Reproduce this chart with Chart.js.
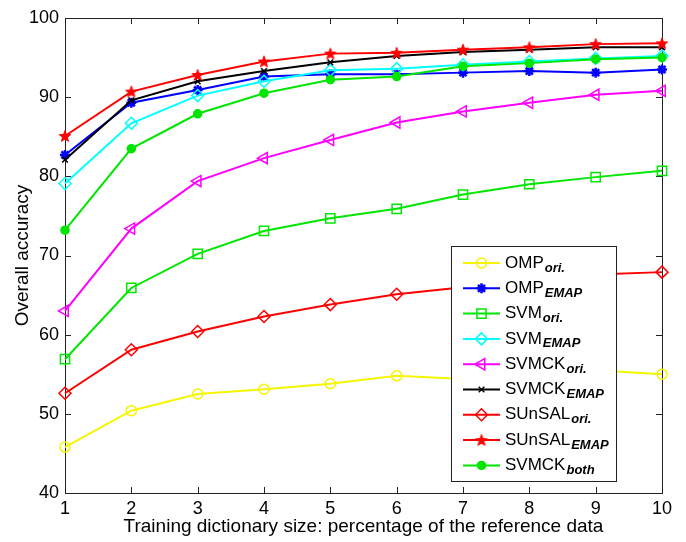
<!DOCTYPE html>
<html>
<head>
<meta charset="utf-8">
<script src="https://cdn.jsdelivr.net/npm/chart.js@4.4.1/dist/chart.umd.min.js"></script>
<style>
  html, body { margin: 0; padding: 0; background: #fff; }
  #wrap { width: 686px; height: 542px; position: relative; }
</style>
</head>
<body>
<div id="wrap"><canvas id="c" width="686" height="542"></canvas></div>
<script>
// ---- data ----
const categories = ['1', '2', '3', '4', '5', '6', '7', '8', '9', '10'];
const yTicks = [40, 50, 60, 70, 80, 90, 100];
const seriesNames = ['OMP', 'OMP', 'SVM', 'SVM', 'SVMCK', 'SVMCK', 'SUnSAL', 'SUnSAL', 'SVMCK'];
const seriesSubs = ['ori.', 'EMAP', 'ori.', 'EMAP', 'ori.', 'EMAP', 'ori.', 'EMAP', 'both'];

const ompOri      = [45.8, 50.4, 52.5, 53.1, 53.8, 54.8, 54.4, 55.0, 55.5, 55.0];
const ompEmap     = [82.7, 89.3, 90.9, 92.6, 92.9, 92.9, 93.1, 93.3, 93.1, 93.5];
const svmOri      = [56.9, 65.9, 70.2, 73.1, 74.7, 75.9, 77.7, 79.0, 79.9, 80.7];
const svmEmap     = [79.1, 86.7, 90.2, 92.0, 93.4, 93.6, 94.1, 94.5, 94.9, 95.2];
const svmckOri    = [63.0, 73.4, 79.4, 82.3, 84.6, 86.8, 88.2, 89.3, 90.3, 90.8];
const svmckEmap   = [82.1, 89.6, 92.0, 93.3, 94.4, 95.2, 95.7, 96.0, 96.3, 96.3];
const sunsalOri   = [52.6, 58.1, 60.4, 62.3, 63.8, 65.1, 66.0, 67.0, 67.6, 67.9];
const sunsalEmap  = [85.1, 90.7, 92.8, 94.5, 95.5, 95.6, 96.0, 96.3, 96.7, 96.8];
const svmckBoth   = [73.2, 83.5, 87.9, 90.5, 92.2, 92.6, 93.9, 94.3, 94.8, 95.0];

// ---- styles ----
function pentagram(color, size) {
  const cv = document.createElement('canvas');
  cv.width = size; cv.height = size;
  const g = cv.getContext('2d');
  const cx = size / 2, cy = size / 2 + 0.5, R = size / 2 - 1, r = R * 0.42;
  g.beginPath();
  for (let i = 0; i < 10; i++) {
    const a = -Math.PI / 2 + i * Math.PI / 5;
    const rr = i % 2 === 0 ? R : r;
    const px = cx + rr * Math.cos(a), py = cy + rr * Math.sin(a);
    if (i === 0) g.moveTo(px, py); else g.lineTo(px, py);
  }
  g.closePath();
  g.fillStyle = color; g.fill();
  g.strokeStyle = color; g.lineWidth = 1; g.stroke();
  return cv;
}
const starImg = pentagram('#ff0000', 14);

const styles = [
  { color: '#f5f500', pointStyle: 'circle', radius: 5, fill: false, rot: 0, bw: 1.5 },
  { color: '#0000ff', pointStyle: 'star', radius: 5, fill: false, rot: 0, bw: 2.5 },
  { color: '#00e600', pointStyle: 'rect', radius: 6.5, fill: false, rot: 0, bw: 1.5 },
  { color: '#00ffff', pointStyle: 'rectRot', radius: 6, fill: false, rot: 0, bw: 1.5 },
  { color: '#ff00ff', pointStyle: 'triangle', radius: 6.5, fill: false, rot: -90, bw: 1.5 },
  { color: '#000000', pointStyle: 'crossRot', radius: 4, fill: false, rot: 0, bw: 1.5 },
  { color: '#ff0000', pointStyle: 'rectRot', radius: 6, fill: false, rot: 0, bw: 1.5 },
  { color: '#ff0000', pointStyle: starImg, radius: 7, fill: true, rot: 0, bw: 1 },
  { color: '#00e600', pointStyle: 'circle', radius: 4, fill: true, rot: 0, bw: 1.5 }
];
const allData = [ompOri, ompEmap, svmOri, svmEmap, svmckOri, svmckEmap, sunsalOri, sunsalEmap, svmckBoth];

const datasets = allData.map((d, i) => ({
  label: seriesNames[i] + ' ' + seriesSubs[i],
  data: d,
  borderColor: styles[i].color,
  backgroundColor: styles[i].fill ? styles[i].color : 'rgba(0,0,0,0)',
  borderWidth: 2,
  pointStyle: styles[i].pointStyle,
  pointRadius: styles[i].radius,
  pointRotation: styles[i].rot,
  pointBorderWidth: styles[i].bw,
  pointBorderColor: styles[i].color,
  pointBackgroundColor: styles[i].fill ? styles[i].color : 'rgba(0,0,0,0)',
  tension: 0,
  order: allData.length - i
}));

const FONT = "'Liberation Sans', Arial, sans-serif";

const frameAndLegend = {
  id: 'frameAndLegend',
  beforeDatasetsDraw(chart) {
    const { ctx, chartArea: a, scales } = chart;
    ctx.save();
    ctx.strokeStyle = '#222';
    ctx.lineWidth = 1;
    ctx.strokeRect(Math.round(a.left) + 0.5, Math.round(a.top) + 0.5,
                   Math.round(a.right - a.left), Math.round(a.bottom - a.top));
    const tl = 6;
    ctx.beginPath();
    categories.forEach((c, i) => {
      const x = Math.round(scales.x.getPixelForValue(i)) + 0.5;
      ctx.moveTo(x, a.bottom); ctx.lineTo(x, a.bottom - tl);
      ctx.moveTo(x, a.top); ctx.lineTo(x, a.top + tl);
    });
    yTicks.forEach(v => {
      const y = Math.round(scales.y.getPixelForValue(v)) + 0.5;
      ctx.moveTo(a.left, y); ctx.lineTo(a.left + tl, y);
      ctx.moveTo(a.right, y); ctx.lineTo(a.right - tl, y);
    });
    ctx.stroke();
    ctx.restore();
  },
  afterDraw(chart, args, opts) {
    const { ctx } = chart;
    ctx.save();
    const L = opts.left, T = opts.top, W = opts.width, H = opts.height;
    ctx.fillStyle = '#fff';
    ctx.fillRect(L, T, W, H);
    ctx.strokeStyle = '#222';
    ctx.lineWidth = 1;
    ctx.strokeRect(L + 0.5, T + 0.5, W, H);
    chart.data.datasets.forEach((ds, i) => {
      const y = T + opts.firstRow + i * opts.rowStep;
      ctx.strokeStyle = ds.borderColor;
      ctx.lineWidth = 2;
      ctx.beginPath();
      ctx.moveTo(L + 12, y); ctx.lineTo(L + 49, y);
      ctx.stroke();
      ctx.fillStyle = ds.pointBackgroundColor;
      ctx.strokeStyle = ds.pointBorderColor;
      ctx.lineWidth = ds.pointBorderWidth;
      Chart.helpers.drawPoint(ctx, {
        pointStyle: ds.pointStyle,
        radius: ds.pointRadius,
        rotation: ds.pointRotation,
        borderWidth: ds.pointBorderWidth
      }, L + 30.5, y);
      ctx.fillStyle = '#000';
      ctx.textBaseline = 'middle';
      ctx.textAlign = 'left';
      ctx.font = '17px ' + FONT;
      const main = seriesNames[i];
      ctx.fillText(main, L + 54, y);
      const w = ctx.measureText(main).width;
      ctx.font = 'italic bold 13px ' + FONT;
      ctx.fillText(seriesSubs[i], L + 54 + w + 1, y + 5);
    });
    ctx.restore();
  }
};

new Chart(document.getElementById('c'), {
  type: 'line',
  data: { labels: categories, datasets },
  options: {
    responsive: false,
    animation: false,
    events: [],
    layout: { padding: { top: 18, right: 24, left: 0, bottom: 0 } },
    plugins: {
      legend: { display: false },
      tooltip: { enabled: false },
      frameAndLegend: { left: 451, top: 246, width: 165, height: 235, firstRow: 17, rowStep: 25.3 }
    },
    scales: {
      x: {
        type: 'category',
        offset: false,
        grid: { display: false, drawTicks: false },
        border: { display: false },
        ticks: { color: '#000', font: { family: FONT, size: 18 }, padding: 5, maxRotation: 0, autoSkip: false },
        title: { display: true, text: 'Training dictionary size: percentage of the reference data',
                 color: '#000', font: { family: FONT, size: 19 }, padding: { top: 0, bottom: 4 } },
        afterFit(s) { s.height = 49; }
      },
      y: {
        min: 40, max: 100,
        grid: { display: false, drawTicks: false },
        border: { display: false },
        ticks: { stepSize: 10, color: '#000', font: { family: FONT, size: 18 }, padding: 6 },
        title: { display: true, text: 'Overall accuracy', color: '#000',
                 font: { family: FONT, size: 19 }, padding: { top: 11, bottom: 0 } },
        afterFit(s) { s.width = 65; }
      }
    }
  },
  plugins: [frameAndLegend]
});
</script>
</body>
</html>
